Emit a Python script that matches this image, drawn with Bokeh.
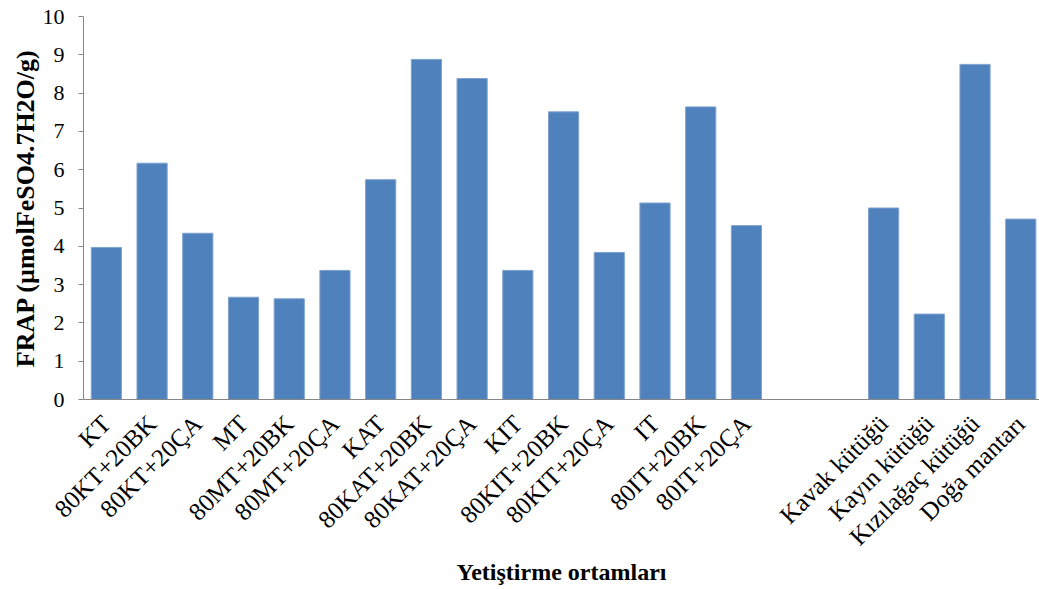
import math
from bokeh.plotting import figure
from bokeh.models import FixedTicker, Range1d, ColumnDataSource
from bokeh.embed import file_html
from bokeh.resources import INLINE

categories = ["KT", "80KT+20BK", "80KT+20ÇA", "MT", "80MT+20BK", "80MT+20ÇA",
              "KAT", "80KAT+20BK", "80KAT+20ÇA", "KIT", "80KIT+20BK", "80KIT+20ÇA",
              "IT", "80IT+20BK", "80IT+20ÇA", "", "",
              "Kavak kütüğü", "Kayın kütüğü", "Kızılağaç kütüğü", "Doğa mantarı"]
frap = [3.97, 6.17, 4.34, 2.67, 2.63, 3.37, 5.74, 8.88, 8.38, 3.37, 7.51, 3.84,
        5.13, 7.64, 4.54, None, None, 5.00, 2.23, 8.75, 4.71]
y_ticks = [0, 1, 2, 3, 4, 5, 6, 7, 8, 9, 10]
x_title = "Yetiştirme ortamları"
y_title = "FRAP (µmolFeSO4.7H2O/g)"

xs, tops, names = [], [], []
for i, (c, v) in enumerate(zip(categories, frap)):
    if v is not None:
        xs.append(i + 0.5)
        tops.append(v)
        names.append(c)
src = ColumnDataSource(dict(x=xs, top=tops, name=names))

FONT = "Liberation Serif"
p = figure(width=1039, height=589, output_backend="svg", toolbar_location=None,
           x_range=Range1d(0, 20.91), y_range=Range1d(0, 10),
           min_border_left=83, min_border_right=0, min_border_top=16, min_border_bottom=190)
p.vbar(x="x", top="top", width=0.66, source=src, fill_color="#4F81BD",
       line_color="#7FA3CF", line_width=1)

p.grid.visible = False
p.outline_line_color = None

ya = p.yaxis[0]
ya.ticker = FixedTicker(ticks=y_ticks)
ya.axis_line_color = "#868686"
ya.major_tick_line_color = "#868686"
ya.major_tick_out = 5
ya.major_tick_in = 0
ya.minor_tick_line_color = None
ya.major_label_standoff = 14
ya.major_label_text_font = FONT
ya.major_label_text_font_size = "22px"
ya.major_label_text_color = "#000000"
ya.axis_label = y_title
ya.axis_label_text_font = FONT
ya.axis_label_text_font_style = "bold"
ya.axis_label_text_font_size = "26px"
ya.axis_label_text_color = "#000000"
ya.axis_label_standoff = 0

xa = p.xaxis[0]
xa.ticker = FixedTicker(ticks=xs)
xa.major_label_overrides = {x: n for x, n in zip(xs, names)}
xa.axis_line_color = "#868686"
xa.major_tick_line_color = None
xa.minor_tick_line_color = None
xa.major_tick_out = 0
xa.major_label_orientation = math.pi / 4
xa.major_label_standoff = 20
xa.major_label_text_font = FONT
xa.major_label_text_font_size = "25px"
xa.major_label_text_color = "#000000"
xa.axis_label = x_title
xa.axis_label_text_font = FONT
xa.axis_label_text_font_style = "bold"
xa.axis_label_text_font_size = "24px"
xa.axis_label_text_color = "#000000"
xa.axis_label_standoff = -4

open("out.html", "w").write(file_html(p, INLINE))
